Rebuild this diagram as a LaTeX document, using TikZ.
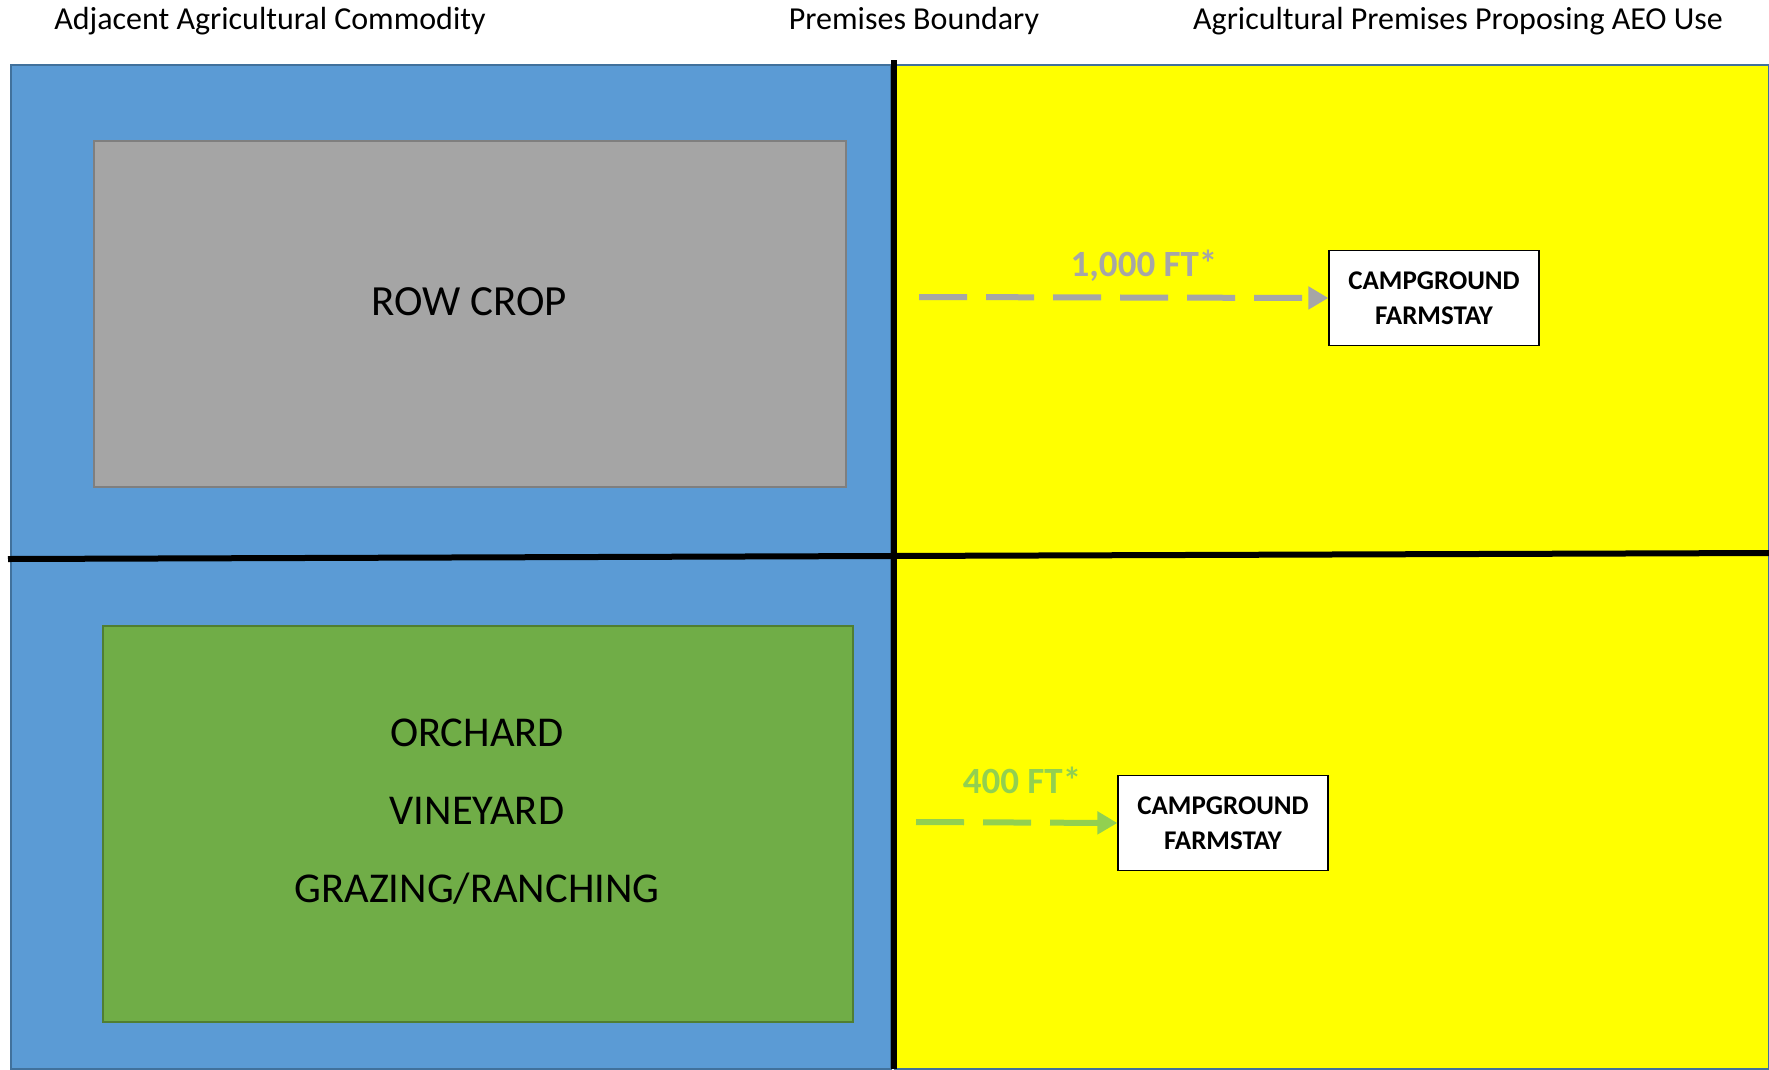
\documentclass[tikz,border=0pt]{standalone}
\usepackage{fontspec}
\setmainfont{Carlito}
\usetikzlibrary{arrows.meta}
\definecolor{fieldblue}{HTML}{5B9BD5}
\definecolor{edgeblue}{HTML}{41719C}
\definecolor{premyellow}{HTML}{FFFF00}
\definecolor{cropgray}{HTML}{A5A5A5}
\definecolor{cropedge}{HTML}{7F7F7F}
\definecolor{orchgreen}{HTML}{70AD47}
\definecolor{orchedge}{HTML}{507E32}
\definecolor{distgreen}{HTML}{92D050}
\definecolor{distgray}{HTML}{A6A6A6}

\begin{document}
\begin{tikzpicture}[x=1pt,y=-1pt,
  header/.style={font=\fontsize{32}{38}\selectfont},
  usebox/.style={draw=black,line width=1.3pt,fill=white,minimum width=210pt,minimum height=95pt,
    align=center,inner sep=0pt,font=\fontsize{27}{35}\selectfont\bfseries},
  distline/.style={line width=6pt,dash pattern=on 48pt off 19pt,-{Triangle[length=20pt,width=22pt]}},
  distlabel/.style={font=\fontsize{37}{42}\selectfont\bfseries}]
\useasboundingbox (0,0) rectangle (1769,1069);

% fields
\draw[fill=fieldblue,draw=edgeblue,line width=1.5pt] (11,65) rectangle (891,1069);
\draw[fill=premyellow,draw=edgeblue,line width=1.5pt] (895,65) rectangle (1769,1069);
\draw[fill=cropgray,draw=cropedge,line width=1.5pt] (94,141) rectangle (846,487);
\draw[fill=orchgreen,draw=orchedge,line width=1.5pt] (103,626) rectangle (853,1022);

% boundary lines
\draw[line width=6pt] (894,60) -- (894,1069);
\draw[line width=6pt] (8,559) -- (1769,553);

% headers
\node[header] (adj) at (270,21) {Adjacent Agricultural Commodity};
\node[header] (bnd) at (914,21) {Premises Boundary};
\node[header] (prem) at (1458,21) {Agricultural Premises Proposing AEO Use};

% commodities
\node[font=\fontsize{43}{48}\selectfont] (row) at (469,302) {ROW CROP};
\node[font=\fontsize{42.5}{78}\selectfont,align=center] (orch) at (477,812) {ORCHARD\\VINEYARD\\GRAZING/RANCHING};

% uses
\node[usebox] (camp1) at (1434,298) {CAMPGROUND\\FARMSTAY};
\node[usebox] (camp2) at (1223,823) {CAMPGROUND\\FARMSTAY};

\coordinate (s1) at (919,297);
\coordinate (s2) at (916,822);
\draw[distline,distgray] (s1) -- (camp1.west);
\draw[distline,distgreen] (s2) -- (camp2.west);
\node[distlabel,text=distgray] (d1) at (1144,266) {1,000 FT*};
\node[distlabel,text=distgreen] (d2) at (1022,780) {400 FT*};
\end{tikzpicture}
\end{document}
